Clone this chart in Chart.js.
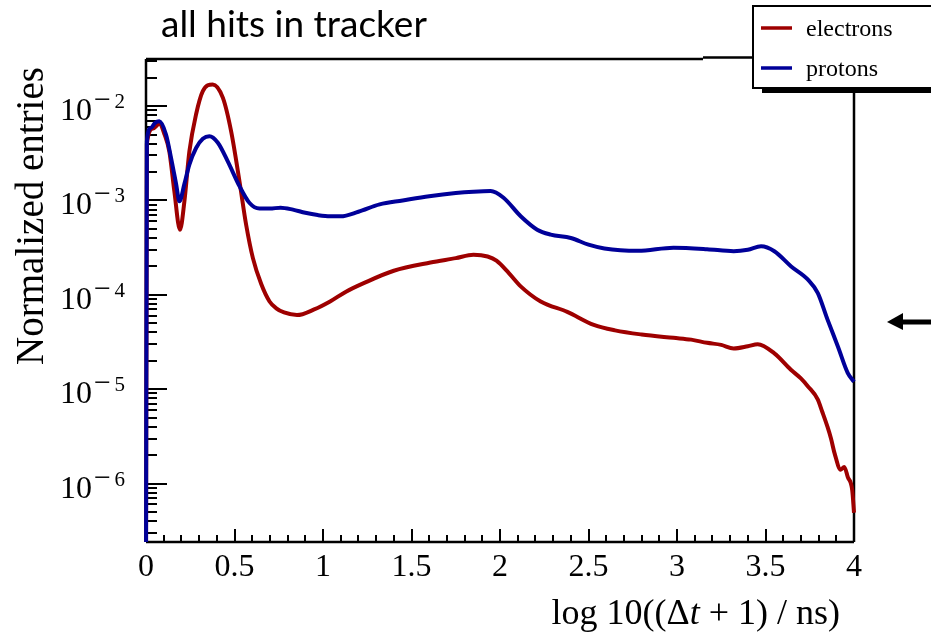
<!DOCTYPE html>
<html>
<head>
<meta charset="utf-8">
<script src="https://cdn.jsdelivr.net/npm/chart.js@4"></script>
<style>
  html, body { margin: 0; padding: 0; background: #fff; }
  #wrap { position: relative; width: 931px; height: 635px; }
</style>
</head>
<body>
<div id="wrap"><canvas id="chart"></canvas></div>
<script>
// values: x = log10((dt+1)/ns), y = normalized entries
const electronX = [0, 0.005, 0.04, 0.075, 0.105, 0.132, 0.16, 0.192, 0.217, 0.245, 0.283, 0.321, 0.377, 0.434,
  0.481, 0.528, 0.566, 0.604, 0.651, 0.698, 0.736, 0.78, 0.853, 0.95, 1.04, 1.13, 1.23, 1.40, 1.607, 1.75, 1.85, 1.93, 1.98,
  2.05, 2.117, 2.23, 2.38, 2.53, 2.65, 2.80, 2.98, 3.08, 3.17, 3.25, 3.32, 3.40, 3.456, 3.55, 3.645, 3.70, 3.74,
  3.795, 3.82, 3.85, 3.87, 3.89, 3.925, 3.945, 3.965, 3.99, 4.0];
const electronY = [1e-7, 4.0e-3, 5.8e-3, 6.5e-3, 5.0e-3, 3.3e-3, 1.26e-3, 4.9e-4, 9.8e-4, 3.3e-3, 8.2e-3, 1.44e-2, 1.7e-2, 1.23e-2,
  5.4e-3, 1.6e-3, 5.5e-4, 2.45e-4, 1.3e-4, 8.5e-5, 7.2e-5, 6.5e-5, 6.1e-5, 7.0e-5, 8.5e-5, 1.08e-4, 1.33e-4, 1.8e-4, 2.2e-4, 2.45e-4, 2.66e-4, 2.55e-4, 2.3e-4,
  1.7e-4, 1.23e-4, 8.5e-5, 6.6e-5, 4.8e-5, 4.2e-5, 3.8e-5, 3.5e-5, 3.35e-5, 3.1e-5, 2.95e-5, 2.7e-5, 2.85e-5, 3.0e-5, 2.4e-5, 1.6e-5, 1.3e-5, 1.07e-5,
  7.8e-6, 5.8e-6, 4.0e-6, 3.0e-6, 2.1e-6, 1.4e-6, 1.5e-6, 1.17e-6, 8.5e-7, 4.9e-7];

const protonX = [0, 0.005, 0.028, 0.05, 0.075, 0.113, 0.142, 0.17, 0.189, 0.217, 0.245, 0.283, 0.321, 0.358, 0.406, 0.462,
  0.528, 0.585, 0.641, 0.70, 0.76, 0.83, 0.90, 0.97, 1.04, 1.10, 1.20, 1.32, 1.45, 1.60, 1.75, 1.85, 1.947, 2.02,
  2.117, 2.21, 2.286, 2.40, 2.50, 2.59, 2.78, 2.98, 3.17, 3.32, 3.40, 3.475, 3.55, 3.645, 3.74, 3.795, 3.85, 3.91, 3.965, 4.0];
const protonY = [1e-7, 4.25e-3, 5.9e-3, 6.6e-3, 6.9e-3, 5.0e-3, 2.8e-3, 1.5e-3, 9.8e-4, 1.5e-3, 2.4e-3, 3.6e-3, 4.5e-3, 4.8e-3, 4.1e-3, 2.6e-3,
  1.42e-3, 9.4e-4, 8.2e-4, 8.2e-4, 8.4e-4, 8.0e-4, 7.4e-4, 7.0e-4, 6.8e-4, 6.8e-4, 7.6e-4, 9.1e-4, 1.0e-3, 1.11e-3, 1.2e-3, 1.24e-3, 1.26e-3, 1.07e-3,
  6.8e-4, 4.9e-4, 4.35e-4, 4.0e-4, 3.4e-4, 3.1e-4, 2.93e-4, 3.16e-4, 3.05e-4, 2.9e-4, 3.0e-4, 3.27e-4, 2.9e-4, 2.0e-4, 1.45e-4, 1.05e-4, 5.5e-5, 2.8e-5, 1.48e-5, 1.2e-5];

const xTickLabels = ['0', '0.5', '1', '1.5', '2', '2.5', '3', '3.5', '4'];
const yDecades = [-6, -5, -4, -3, -2];

const RED = '#9e0000';
const BLUE = '#000099';
const SERIF = '"Liberation Serif", "DejaVu Serif", serif';

const toPoints = (xs, ys) => xs.map((x, i) => ({ x: x, y: ys[i] }));

const framePlugin = {
  id: 'frame',
  beforeDatasetsDraw(chart) {
    const { ctx, chartArea: a, scales } = chart;
    const xs = scales.x, ys = scales.y;
    ctx.save();
    ctx.strokeStyle = '#000';
    ctx.lineWidth = 2.5;
    ctx.beginPath();
    ctx.moveTo(a.left, 59); ctx.lineTo(703, 59);
    ctx.moveTo(703, 57.5); ctx.lineTo(753, 57.5);
    ctx.moveTo(a.right, 88); ctx.lineTo(a.right, a.bottom);
    ctx.moveTo(a.left, a.top); ctx.lineTo(a.left, a.bottom);
    ctx.moveTo(a.left, a.bottom); ctx.lineTo(a.right, a.bottom);
    ctx.stroke();

    // inward tick marks
    ctx.lineWidth = 2;
    ctx.beginPath();
    for (let i = 0; i <= 40; i++) {
      const px = Math.round(xs.getPixelForValue(i / 10));
      const len = i % 5 === 0 ? 13 : 7;
      ctx.moveTo(px, a.bottom); ctx.lineTo(px, a.bottom - len);
    }
    for (let d = -7; d <= -2; d++) {
      for (let m = 1; m <= 9; m++) {
        const v = m * Math.pow(10, d);
        if (v < ys.min || v > ys.max) continue;
        const py = Math.round(ys.getPixelForValue(v));
        const len = m === 1 ? 21 : 11;
        ctx.moveTo(a.left, py); ctx.lineTo(a.left + len, py);
      }
    }
    ctx.stroke();

    // tick labels
    ctx.fillStyle = '#000';
    ctx.font = '32px ' + SERIF;
    ctx.textAlign = 'center';
    ctx.textBaseline = 'alphabetic';
    xTickLabels.forEach(t => {
      ctx.fillText(t, xs.getPixelForValue(parseFloat(t)), 576);
    });
    yDecades.forEach(d => {
      const py = ys.getPixelForValue(Math.pow(10, d));
      ctx.textAlign = 'right';
      ctx.font = '21px ' + SERIF;
      ctx.fillText(String(Math.abs(d)), 125, py + 2);
      ctx.textAlign = 'center';
      ctx.font = '30px ' + SERIF;
      ctx.fillText('\u2212', 102.5, py + 3);
      ctx.textAlign = 'right';
      ctx.font = '32px ' + SERIF;
      ctx.fillText('10', 92, py + 14);
    });
    ctx.restore();
  },
  afterDraw(chart) {
    const { ctx } = chart;
    ctx.save();
    ctx.fillStyle = '#000';

    // title
    ctx.font = '37px Lato, "Open Sans", sans-serif';
    ctx.textAlign = 'left';
    ctx.fillText('all hits in tracker', 161, 37);

    // y axis title
    ctx.save();
    ctx.translate(43, 216);
    ctx.rotate(-Math.PI / 2);
    ctx.font = '39px ' + SERIF;
    ctx.textAlign = 'center';
    ctx.fillText('Normalized entries', 0, 0);
    ctx.restore();

    // x axis title, right aligned
    const parts = [['log 10((\u0394', ''], ['t', 'italic '], [' + 1) / ns)', '']];
    const fs = '36px ';
    let w = 0;
    parts.forEach(p => { ctx.font = p[1] + fs + SERIF; w += ctx.measureText(p[0]).width; });
    let x = 840 - w;
    ctx.textAlign = 'left';
    parts.forEach(p => {
      ctx.font = p[1] + fs + SERIF;
      ctx.fillText(p[0], x, 624);
      x += ctx.measureText(p[0]).width;
    });

    // legend box with shadow
    ctx.fillRect(762, 88, 180, 5);
    ctx.fillStyle = '#fff';
    ctx.fillRect(753, 6, 190, 82);
    ctx.strokeStyle = '#000';
    ctx.lineWidth = 2;
    ctx.strokeRect(753, 6, 190, 82);
    ctx.font = '24px ' + SERIF;
    ctx.fillStyle = '#000';
    chart.data.datasets.forEach((ds, i) => {
      const ly = i === 0 ? 28 : 68;
      ctx.strokeStyle = ds.borderColor;
      ctx.lineWidth = 3.5;
      ctx.beginPath(); ctx.moveTo(761, ly); ctx.lineTo(792, ly); ctx.stroke();
      ctx.fillText(ds.label, 806, ly + 8);
    });

    // arrow on the right
    ctx.fillStyle = '#000';
    ctx.fillRect(902, 319.5, 29, 5);
    ctx.beginPath();
    ctx.moveTo(887, 322); ctx.lineTo(903, 313); ctx.lineTo(903, 330); ctx.closePath();
    ctx.fill();
    ctx.restore();
  }
};

new Chart(document.getElementById('chart'), {
  type: 'line',
  data: {
    datasets: [
      { label: 'electrons', data: toPoints(electronX, electronY), borderColor: RED, order: 1 },
      { label: 'protons', data: toPoints(protonX, protonY), borderColor: BLUE, order: 0 }
    ]
  },
  options: {
    responsive: true,
    maintainAspectRatio: false,
    animation: false,
    layout: { padding: { top: 59, right: 77, left: 0, bottom: 0 } },
    elements: {
      line: { borderWidth: 4, cubicInterpolationMode: 'monotone', fill: false },
      point: { radius: 0 }
    },
    datasets: { line: { clip: { left: 4, right: 4, top: 0, bottom: 0 } } },
    plugins: { legend: { display: false }, tooltip: { enabled: false } },
    scales: {
      x: {
        type: 'linear', min: 0, max: 4,
        grid: { display: false }, border: { display: false }, ticks: { display: false },
        afterFit: s => { s.height = 93; }
      },
      y: {
        type: 'logarithmic', min: 2.4e-7, max: 3.16e-2,
        grid: { display: false }, border: { display: false }, ticks: { display: false },
        afterFit: s => { s.width = 146; }
      }
    }
  },
  plugins: [framePlugin]
});
</script>
</body>
</html>
